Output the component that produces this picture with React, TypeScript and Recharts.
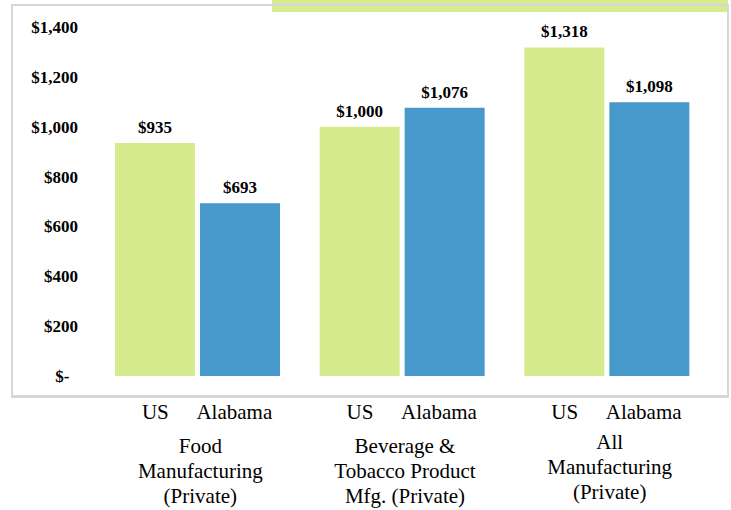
import { BarChart, Bar, XAxis, YAxis, LabelList } from "recharts";

const categories = [
  "Food Manufacturing (Private)",
  "Beverage & Tobacco Product Mfg. (Private)",
  "All Manufacturing (Private)",
];
const categoryLines = [
  ["Food", "Manufacturing", "(Private)"],
  ["Beverage &", "Tobacco Product", "Mfg. (Private)"],
  ["All", "Manufacturing", "(Private)"],
];
const seriesNames = ["US", "Alabama"];
const usWages = [935, 1000, 1318];
const alabamaWages = [693, 1076, 1098];
const yTicks = [0, 200, 400, 600, 800, 1000, 1200, 1400];

const data = categories.map((name, i) => ({
  name,
  us: usWages[i],
  alabama: alabamaWages[i],
}));

const GREEN = "#d5eb8e";
const BLUE = "#4899cb";
const FONT = "Liberation Serif, DejaVu Serif, serif";

// accounting style: zero shows as "$-" with some right padding
const money = (v: number) =>
  v === 0 ? "$-\u00a0\u00a0" : "$" + v.toLocaleString("en-US");

function CategoryTick(props: any) {
  const { x, y, index } = props;
  const lines = categoryLines[index] || [];
  const firstY = index === 2 ? 73 : 77;
  const txt = { fontSize: 21, fontFamily: FONT, fill: "#000" };
  return (
    <g>
      <text x={x - 42} y={y + 43} textAnchor="middle" style={txt}>
        {seriesNames[0]}
      </text>
      <text x={x + 37} y={y + 43} textAnchor="middle" style={txt}>
        {seriesNames[1]}
      </text>
      {lines.map((line, i) => (
        <text key={i} x={x + 3} y={y + firstY + i * 25} textAnchor="middle" style={txt}>
          {line}
        </text>
      ))}
    </g>
  );
}

export default function App() {
  const numStyle = { fill: "#000", fontFamily: FONT, fontSize: 17, fontWeight: "bold" };
  return (
    <div
      style={{
        position: "absolute",
        left: 0,
        top: 0,
        width: 731,
        height: 510,
        background: "#fff",
        overflow: "hidden",
        fontFamily: FONT,
      }}
    >
      {/* accent strip and chart frame */}
      <div style={{ position: "absolute", left: 272, top: 0, width: 456, height: 12, background: GREEN }} />
      <div
        style={{
          position: "absolute",
          left: 11,
          top: 4,
          width: 714,
          height: 389,
          border: "2px solid #d6d6d6",
          borderBottomWidth: 3,
        }}
      />
      <div style={{ position: "absolute", left: 0, top: 0 }}>
        <BarChart
          width={731}
          height={510}
          data={data}
          margin={{ top: 27, right: 22, bottom: 0, left: 0 }}
          barGap={5}
          barCategoryGap={20}
        >
          <YAxis
            domain={[0, 1400]}
            ticks={yTicks}
            width={95}
            axisLine={false}
            tickLine={false}
            tickSize={0}
            tickMargin={17}
            tickFormatter={money}
            tick={numStyle}
          />
          <XAxis
            dataKey="name"
            height={134}
            axisLine={false}
            tickLine={false}
            tickSize={0}
            tickMargin={0}
            interval={0}
            tick={<CategoryTick />}
          />
          <Bar dataKey="us" fill={GREEN} isAnimationActive={false}>
            <LabelList
              dataKey="us"
              position="top"
              offset={10}
              formatter={(v: any) => money(Number(v))}
              style={numStyle}
            />
          </Bar>
          <Bar dataKey="alabama" fill={BLUE} isAnimationActive={false}>
            <LabelList
              dataKey="alabama"
              position="top"
              offset={10}
              formatter={(v: any) => money(Number(v))}
              style={numStyle}
            />
          </Bar>
        </BarChart>
      </div>
    </div>
  );
}
